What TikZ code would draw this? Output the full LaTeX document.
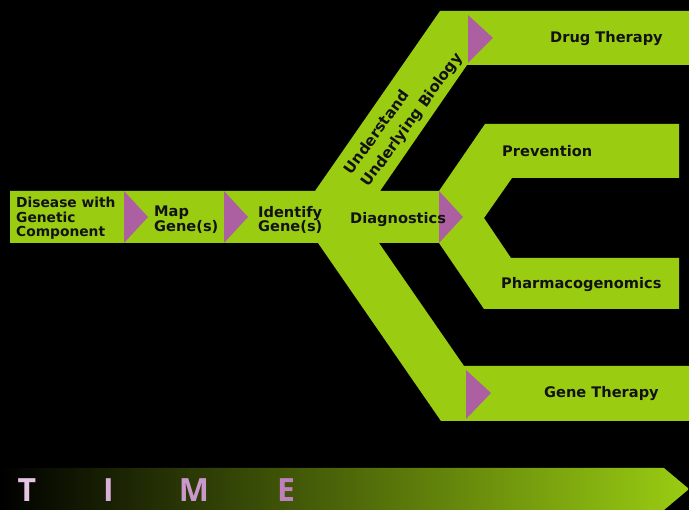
\documentclass[tikz,border=0pt]{standalone}
\usepackage{fontspec}
\setmainfont{DejaVu Sans}
\newfontfamily\timefont{Open Sans}
\definecolor{bandgreen}{RGB}{154,205,18}
\definecolor{tripurple}{RGB}{172,96,162}
\definecolor{textdark}{RGB}{18,18,18}
\definecolor{timeT}{RGB}{230,196,228}
\definecolor{timeI}{RGB}{218,176,216}
\definecolor{timeM}{RGB}{202,152,202}
\definecolor{timeE}{RGB}{192,128,190}
\tikzset{
  band/.style={fill=bandgreen, draw=none},
  tri/.style={fill=tripurple, draw=none},
  lbl/.style={font=\fontsize{14.6}{14.8}\selectfont\bfseries, text=textdark, inner sep=0pt, align=left},
  rlbl/.style={font=\fontsize{15}{21}\selectfont\bfseries, text=textdark, inner sep=0pt, align=left},
  timelbl/.style={font=\timefont\bfseries\fontsize{32}{32}\selectfont, inner sep=0pt, anchor=base}
}
\begin{document}
\begin{tikzpicture}[x=1pt,y=-1pt]
\useasboundingbox (0,0) rectangle (689,510);
\fill[black] (0,0) rectangle (689,510);
% green branching band
\path[band] (10,191) -- (315,191) -- (440,11) -- (689,11) -- (689,65) -- (467,65)
  -- (380,191) -- (439,191) -- (485,124) -- (679,124) -- (679,178) -- (512,178)
  -- (484,218) -- (511,258) -- (679,258) -- (679,309) -- (484,309) -- (439,243)
  -- (379,243) -- (464,366) -- (689,366) -- (689,421) -- (441,421) -- (318,243)
  -- (10,243) -- cycle;
% purple triangles
\path[tri] (124,191) -- (124,243) -- (148,217) -- cycle;
\path[tri] (224,191) -- (224,243) -- (248,217) -- cycle;
\path[tri] (439,191) -- (439,243) -- (463,217) -- cycle;
\path[tri] (468,15) -- (468,63) -- (493,38) -- cycle;
\path[tri] (466,370) -- (466,419) -- (491,393) -- cycle;
% labels
\node[lbl, anchor=west, font=\fontsize{13.8}{14.6}\selectfont\bfseries] (disease) at (16,218.5) {Disease with\\Genetic\\Component};
\node[lbl, anchor=west] (map) at (154,220) {Map\\Gene(s)};
\node[lbl, anchor=west] (identify) at (258,220) {Identify\\Gene(s)};
\node[lbl, anchor=base west] (diag) at (350,224) {Diagnostics};
\node[lbl, anchor=base west] (drug) at (550,43) {Drug Therapy};
\node[lbl, anchor=base west] (prev) at (502,156.5) {Prevention};
\node[lbl, anchor=base west] (pharm) at (501,288.5) {Pharmacogenomics};
\node[lbl, anchor=base west] (gene) at (544,397.5) {Gene Therapy};
\node[rlbl, rotate=54] (underst) at (404,114) {Understand\\Underlying Biology};
% time arrow
\shade[left color=black, right color=bandgreen] (0,468) -- (664,468) -- (689,489) -- (664,510) -- (0,510) -- cycle;
\node[timelbl, text=timeT] (tT) at (27,502) {T};
\node[timelbl, text=timeI] (tI) at (108.5,502) {I};
\node[timelbl, text=timeM] (tM) at (194,502) {M};
\node[timelbl, text=timeE] (tE) at (286,502) {E};
\end{tikzpicture}
\end{document}
